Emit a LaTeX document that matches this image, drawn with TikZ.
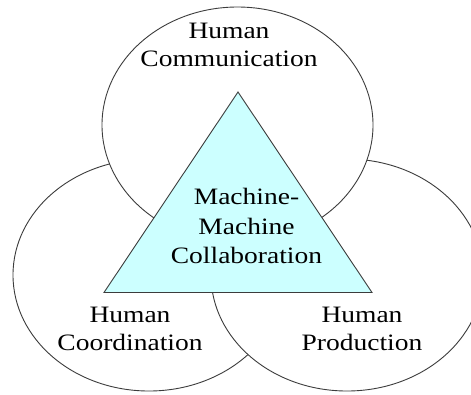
\documentclass[tikz,border=0pt]{standalone}
\usepackage{fontspec}
\setmainfont{Liberation Serif}[FakeStretch=1.17]
\definecolor{edge}{RGB}{60,60,60}
\definecolor{tri}{RGB}{204,255,255}
\tikzset{
  circ/.style={draw=edge, line width=0.9bp, fill=white},
  trishape/.style={draw=edge, line width=0.9bp, fill=tri, line join=miter},
  lbl/.style={anchor=base, inner sep=0pt, font=\fontsize{23.5bp}{29bp}\selectfont, text=black}
}
\begin{document}
\begin{tikzpicture}[x=1bp, y=-1bp]
\fill[white] (0,0) rectangle (471,394);
\useasboundingbox (0,0) rectangle (471,394);
% ellipses
\draw[circ] (149,275) ellipse [x radius=136, y radius=116];
\draw[circ] (347,275) ellipse [x radius=136, y radius=116];
\draw[circ] (237.5,125) ellipse [x radius=135.5, y radius=118];
% triangle
\coordinate (apex) at (238,92);
\coordinate (bl) at (104,292.5);
\coordinate (br) at (372,292.5);
\draw[trishape] (apex) -- (bl) -- (br) -- cycle;
% labels
\node[lbl] (comm1) at (229,38) {Human};
\node[lbl] (comm2) at (229,66) {Communication};
\node[lbl] (coord1) at (130,322) {Human};
\node[lbl] (coord2) at (130,350) {Coordination};
\node[lbl] (prod1) at (362,322) {Human};
\node[lbl] (prod2) at (362,350) {Production};
\node[lbl] (mm1) at (246.5,204) {Machine-};
\node[lbl] (mm2) at (246.5,234) {Machine};
\node[lbl] (mm3) at (246.5,263) {Collaboration};
\end{tikzpicture}
\end{document}
